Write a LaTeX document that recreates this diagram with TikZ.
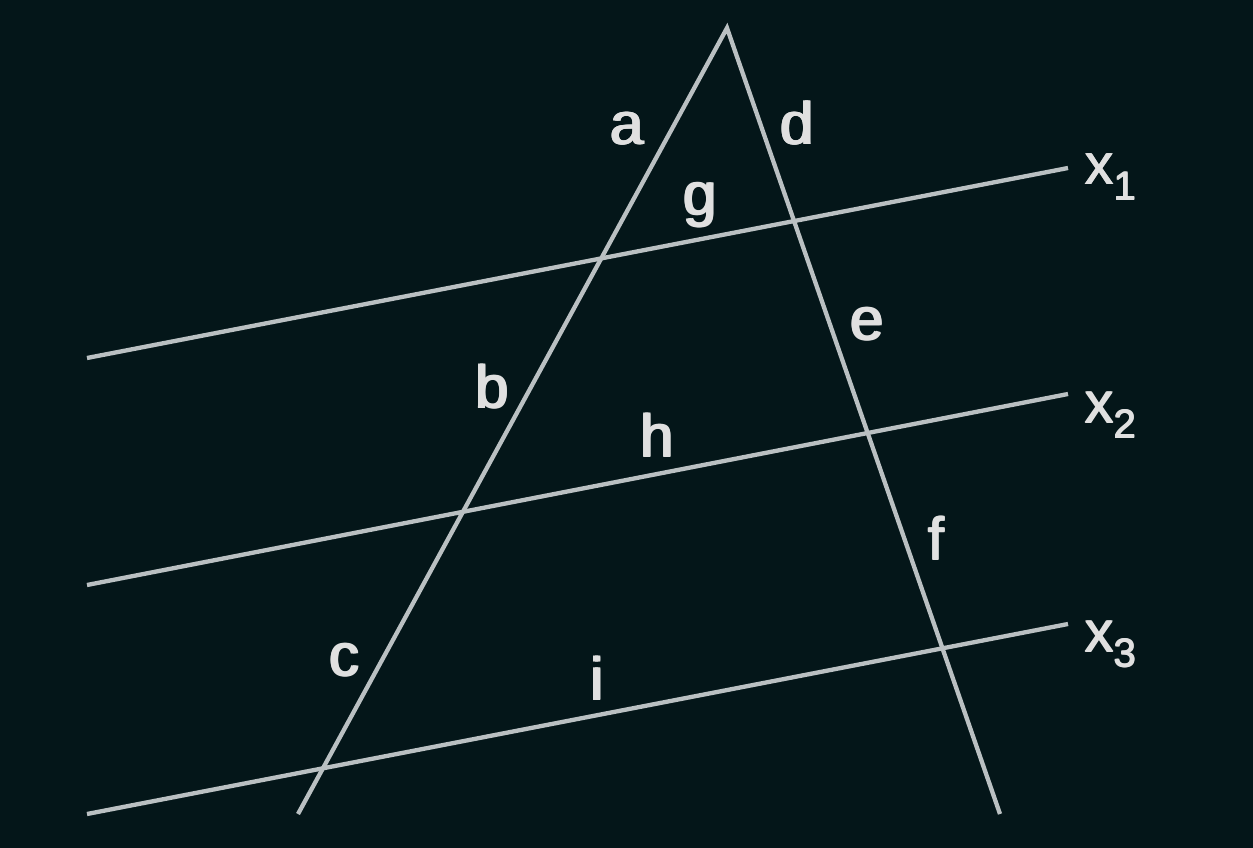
\documentclass[tikz,border=0pt]{standalone}
\usepackage{fontspec}
\newfontfamily\labfont{Liberation Sans}
\newcommand{\thk}[1]{\rlap{#1}\rlap{\hspace{1.5pt}#1}\rlap{\raisebox{0.8pt}{#1}}\rlap{\hspace{1.5pt}\raisebox{0.8pt}{#1}}\hspace{0.75pt}\phantom{#1}\hspace{0.75pt}}
\definecolor{bgc}{RGB}{4,22,25}
\definecolor{linec}{RGB}{186,192,194}
\definecolor{textc}{RGB}{224,224,224}
\begin{document}
\begin{tikzpicture}[x=1pt,y=-1pt,
  ln/.style={draw=linec,line width=4.3pt},
  lab/.style={text=textc,inner sep=0pt,anchor=base,font=\labfont\fontsize{60}{70}\selectfont},
  xlab/.style={text=textc,inner sep=0pt,anchor=base west,font=\labfont\fontsize{58}{70}\selectfont}]
\fill[bgc] (0,0) rectangle (1253,848);
\useasboundingbox (0,0) rectangle (1253,848);
\coordinate (apex) at (727,28);
\coordinate (lend) at (298,814);
\coordinate (rend) at (1000,814);
\coordinate (a1) at (87,358);
\coordinate (b1) at (1068,168);
\coordinate (a2) at (87,585);
\coordinate (b2) at (1068,394);
\coordinate (a3) at (87,814);
\coordinate (b3) at (1068,624);
\draw[ln] (a1) -- (b1);
\draw[ln] (a2) -- (b2);
\draw[ln] (a3) -- (b3);
\draw[ln,line join=miter] (lend) -- (apex) -- (rend);
\node[lab] (la) at (627,145) {\thk{a}};
\node[lab] (ld) at (797,145) {\thk{d}};
\node[lab] (lg) at (700,215) {\thk{g}};
\node[lab] (le) at (867,340) {\thk{e}};
\node[lab] (lb) at (492,408) {\thk{b}};
\node[lab] (lh) at (657,457) {\thk{h}};
\node[lab] (lf) at (936,560) {\thk{f}};
\node[lab] (lc) at (344,676) {\thk{c}};
\node[lab] (li) at (597,700) {\thk{i}};
\node[xlab] (x1) at (1084,185) {\thk{x\raisebox{-15pt}{\fontsize{40}{48}\selectfont 1}}};
\node[xlab] (x2) at (1084,423) {\thk{x\raisebox{-15pt}{\fontsize{40}{48}\selectfont 2}}};
\node[xlab] (x3) at (1084,652) {\thk{x\raisebox{-15pt}{\fontsize{40}{48}\selectfont 3}}};
\end{tikzpicture}
\end{document}
